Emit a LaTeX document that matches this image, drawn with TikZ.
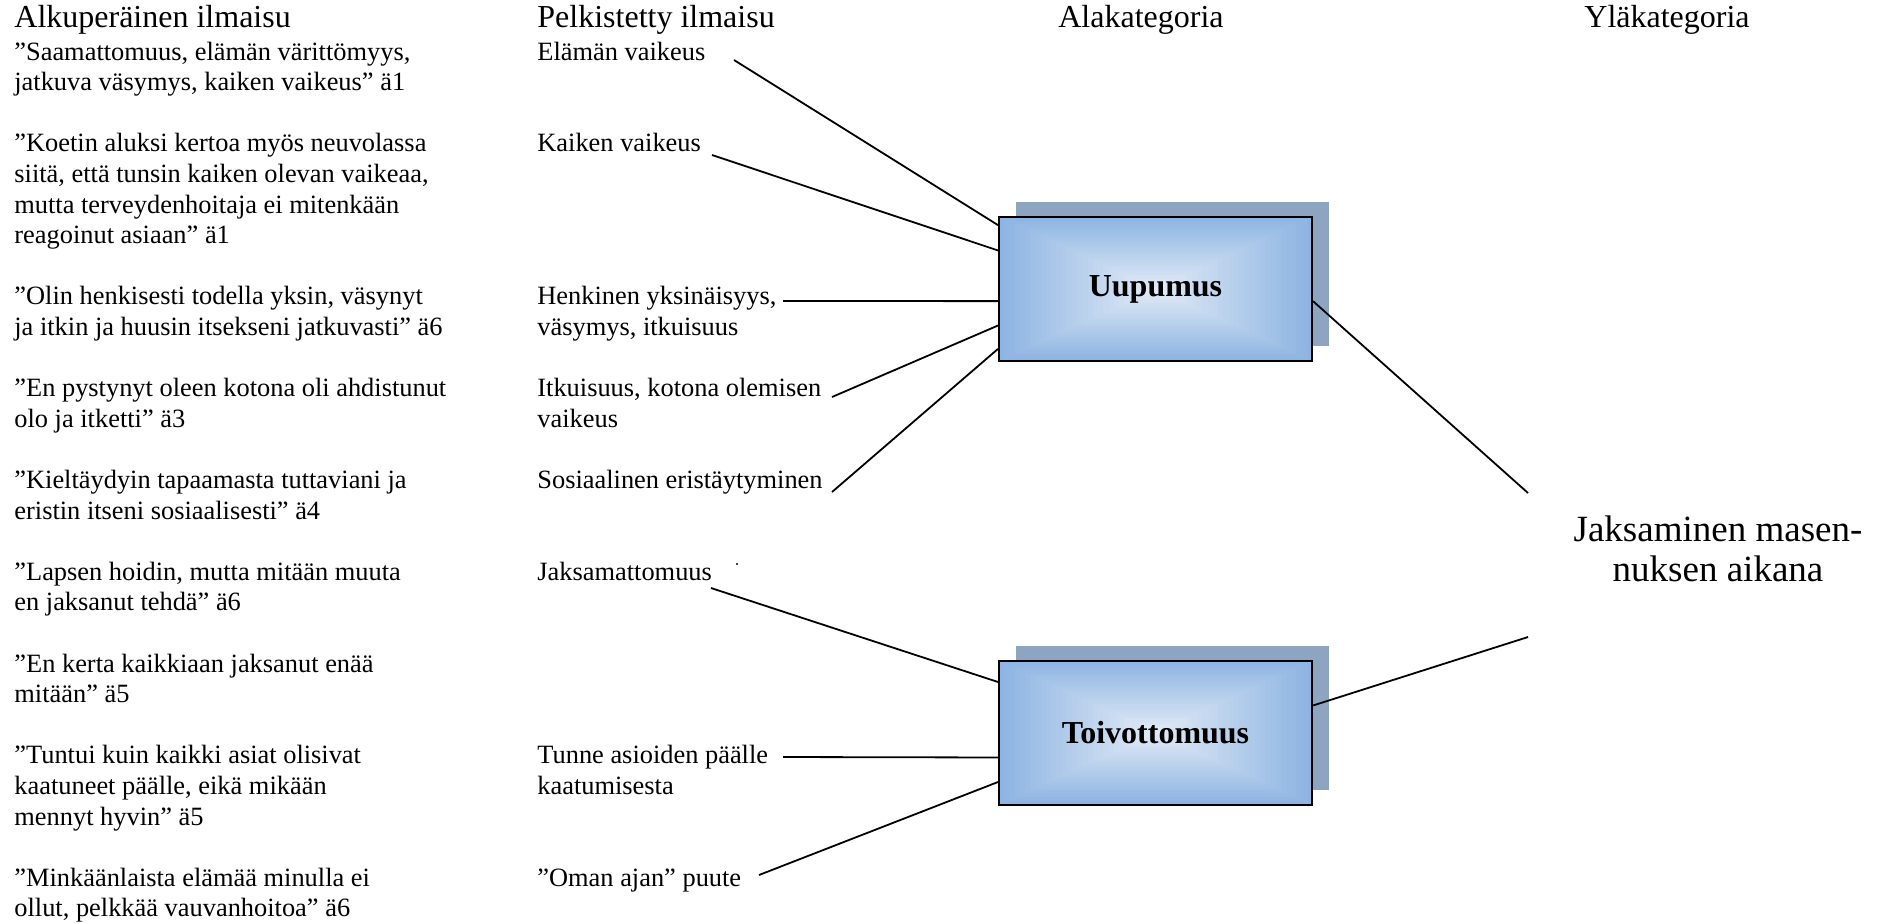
\documentclass[tikz,border=0pt]{standalone}
\usepackage{fontspec}
\setmainfont{Liberation Serif}
\usepackage{xcolor}
\usetikzlibrary{calc,shadows}

\definecolor{boxedge}{RGB}{141,180,226}
\definecolor{boxlight}{RGB}{228,236,247}
\definecolor{boxshade}{RGB}{142,165,193}

\begin{document}
\begin{tikzpicture}[x=0.5pt,y=-0.5pt]
\tikzset{every node/.style={inner sep=0pt}}
\tikzset{colhead/.style={font=\fontsize{16}{18}\selectfont,anchor=base west}}
% multi-line nodes: base = baseline of the last line
\tikzset{quote/.style={font=\fontsize{13.2}{15.3}\selectfont,anchor=base west,align=left}}
\tikzset{link/.style={line width=0.9pt}}
\tikzset{catbox/.style={draw=black,line width=1pt,minimum width=156.5pt,minimum height=72pt,
  font=\fontsize{16}{18}\selectfont\bfseries,
  general shadow={shadow xshift=8.5pt,shadow yshift=7.5pt,fill=boxshade},
  path picture={
    \foreach \k [evaluate=\k as \p using int(\k*100/30)] in {0,...,29}
      \fill[boxlight!\p!boxedge] ($(path picture bounding box.south west)!\k/30!(path picture bounding box.center)$)
        rectangle ($(path picture bounding box.north east)!\k/30!(path picture bounding box.center)$);
  }}}
\tikzset{topcat/.style={font=\fontsize{18.5}{20}\selectfont,align=center,anchor=base}}

\useasboundingbox (0,0) rectangle (1883,923);

% otsikot
\node[colhead] (h1) at (14,27) {Alkuperäinen ilmaisu};
\node[colhead] (h2) at (537,27) {Pelkistetty ilmaisu};
\node[colhead,anchor=base] (h3) at (1141,27) {Alakategoria};
\node[colhead,anchor=base] (h4) at (1667,27) {Yläkategoria};

% alkuperaiset ilmaisut
\node[quote] (a1) at (14,90.6) {”Saamattomuus, elämän värittömyys,\\jatkuva väsymys, kaiken vaikeus” ä1};
\node[quote] (a2) at (14,243.6) {”Koetin aluksi kertoa myös neuvolassa\\siitä, että tunsin kaiken olevan vaikeaa,\\mutta terveydenhoitaja ei mitenkään\\reagoinut asiaan” ä1};
\node[quote] (a3) at (14,335.4) {”Olin henkisesti todella yksin, väsynyt\\ja itkin ja huusin itsekseni jatkuvasti” ä6};
\node[quote] (a4) at (14,427.2) {”En pystynyt oleen kotona oli ahdistunut\\olo ja itketti” ä3};
\node[quote] (a5) at (14,519) {”Kieltäydyin tapaamasta tuttaviani ja\\eristin itseni sosiaalisesti” ä4};
\node[quote] (a6) at (14,610.8) {”Lapsen hoidin, mutta mitään muuta\\en jaksanut tehdä” ä6};
\node[quote] (a7) at (14,702.6) {”En kerta kaikkiaan jaksanut enää\\mitään” ä5};
\node[quote] (a8) at (14,825) {”Tuntui kuin kaikki asiat olisivat\\kaatuneet päälle, eikä mikään\\mennyt hyvin” ä5};
\node[quote] (a9) at (14,916.8) {”Minkäänlaista elämää minulla ei\\ollut, pelkkää vauvanhoitoa” ä6};

% pelkistetyt ilmaisut
\node[quote] (p1) at (537,60) {Elämän vaikeus};
\node[quote] (p2) at (537,151.8) {Kaiken vaikeus};
\node[quote] (p3) at (537,335.4) {Henkinen yksinäisyys,\\väsymys, itkuisuus};
\node[quote] (p4) at (537,427.2) {Itkuisuus, kotona olemisen\\vaikeus};
\node[quote] (p5) at (537,488.4) {Sosiaalinen eristäytyminen};
\node[quote] (p6) at (537,580.2) {Jaksamattomuus};
\node[quote] (p7) at (537,794.4) {Tunne asioiden päälle\\kaatumisesta};
\node[quote] (p8) at (537,886.2) {”Oman ajan” puute};

% alakategoriat
\node[catbox] (uup) at (1155.5,289) {Uupumus};
\node[catbox] (toiv) at (1155.5,732.5) {Toivottomuus};

% ylakategoria
\node[topcat] (jak) at (1718,581) {Jaksaminen masen-\\nuksen aikana};

\coordinate (e1) at (734,60);
\coordinate (e2) at (712,155);
\coordinate (e3) at (783,301);
\coordinate (e4) at (832,397);
\coordinate (e5) at (832,492);
\coordinate (e6) at (711,588);
\coordinate (e7) at (783,757);
\coordinate (e8) at (759,875);
\coordinate (j1) at (1528,493);
\coordinate (j2) at (1528,637);

\draw[link] (e1) -- ($(uup.north west)!0.0625!(uup.south west)$);
\draw[link] (e2) -- ($(uup.north west)!0.236!(uup.south west)$);
\draw[link] (e3) -- ($(uup.north west)!0.583!(uup.south west)$);
\draw[link] (e4) -- ($(uup.north west)!0.75!(uup.south west)$);
\draw[link] (e5) -- ($(uup.north west)!0.91!(uup.south west)$);
\draw[link] ($(uup.north east)!0.583!(uup.south east)$) -- (j1);

\draw[link] (e6) -- ($(toiv.north west)!0.154!(toiv.south west)$);
\draw[link] (e7) -- ($(toiv.north west)!0.671!(toiv.south west)$);
\draw[link] (e8) -- ($(toiv.north west)!0.839!(toiv.south west)$);
\draw[link] ($(toiv.north east)!0.315!(toiv.south east)$) -- (j2);

\fill (737,564) circle (1.2);

\end{tikzpicture}
\end{document}
